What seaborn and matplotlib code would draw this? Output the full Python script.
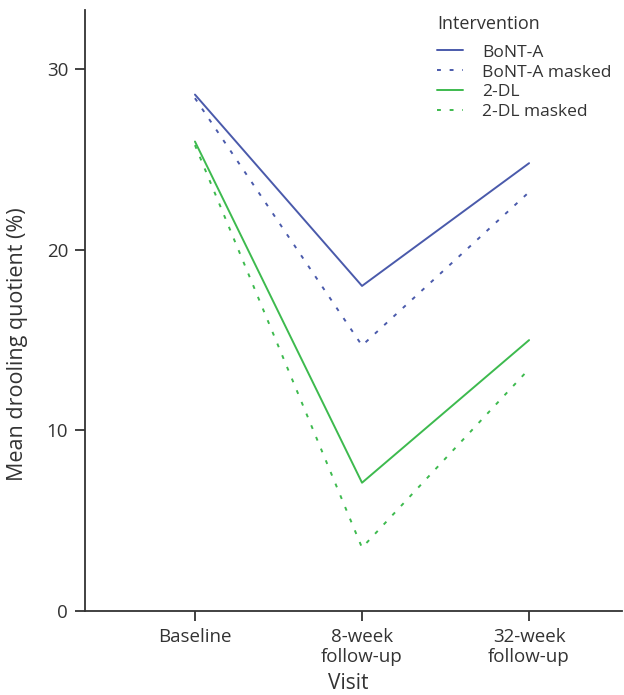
import numpy as np
import pandas as pd
import matplotlib.pyplot as plt
import seaborn as sns

# DATA

visits = ["Baseline", "8-week\nfollow-up", "32-week\nfollow-up"]
bonta = [28.6, 18.0, 24.8]
bonta_masked = [28.4, 14.7, 23.2]
dl2 = [26.0, 7.1, 15.0]
dl2_masked = [25.8, 3.5, 13.4]

groups = {
    "BoNT-A": bonta,
    "BoNT-A masked": bonta_masked,
    "2-DL": dl2,
    "2-DL masked": dl2_masked,
}

rows = []
for name, vals in groups.items():
    for v, q in zip(visits, vals):
        rows.append([name, v, q])
df = pd.DataFrame(rows, columns=["Intervention", "Visit", "Mean drooling quotient (%)"])
df["Visit"] = pd.Categorical(df["Visit"], categories=visits, ordered=True)
df["pos"] = df["Visit"].cat.codes

sns.set_style("ticks")
plt.rcParams['font.family'] = ['Open Sans', 'DejaVu Sans']

blue = "#4a5aab"
green = "#3dba4e"
palette = {"BoNT-A": blue, "BoNT-A masked": blue, "2-DL": green, "2-DL masked": green}
dashes = {"BoNT-A": "", "BoNT-A masked": (2, 4.5), "2-DL": "", "2-DL masked": (2, 4.5)}
txt = '#333333'

fig = plt.figure(figsize=(6.24, 6.95), dpi=100)
ax = fig.add_axes([0.136, 0.121, 0.861, 0.865])

sns.lineplot(
    data=df, x="pos", y="Mean drooling quotient (%)",
    hue="Intervention", style="Intervention",
    palette=palette, dashes=dashes, linewidth=1.4, ax=ax
)

ax.set_xlim(-0.659, 2.557)
ax.set_ylim(0, 33.3)
ax.set_xticks(range(len(visits)))
ax.set_xticklabels(visits)
ax.set_yticks([0, 10, 20, 30])
ax.tick_params(axis='both', labelsize=13.5, length=7, width=1.3, pad=5,
               colors=txt, labelcolor=txt)
ax.set_xlabel("Visit", fontsize=15, color=txt)
ax.set_ylabel("Mean drooling quotient (%)", fontsize=15.5, color=txt)
ax.yaxis.set_label_coords(-0.106, 0.444)
ax.xaxis.set_label_coords(0.49, -0.103)
for s in ["top", "right"]:
    ax.spines[s].set_visible(False)
for s in ["left", "bottom"]:
    ax.spines[s].set_linewidth(1.3)
    ax.spines[s].set_color(txt)

leg = ax.legend(title="Intervention", frameon=False, fontsize=12.5, title_fontsize=13,
                loc="upper left", bbox_to_anchor=(0.700, 0.978),
                bbox_transform=fig.transFigure, alignment="left", borderpad=0,
                handlelength=1.5, handletextpad=1.1, labelspacing=0.22, borderaxespad=0)
leg._legend_box.sep = 8
for t in leg.get_texts():
    t.set_color(txt)
leg.get_title().set_color(txt)

plt.savefig("out.png", dpi=100)
